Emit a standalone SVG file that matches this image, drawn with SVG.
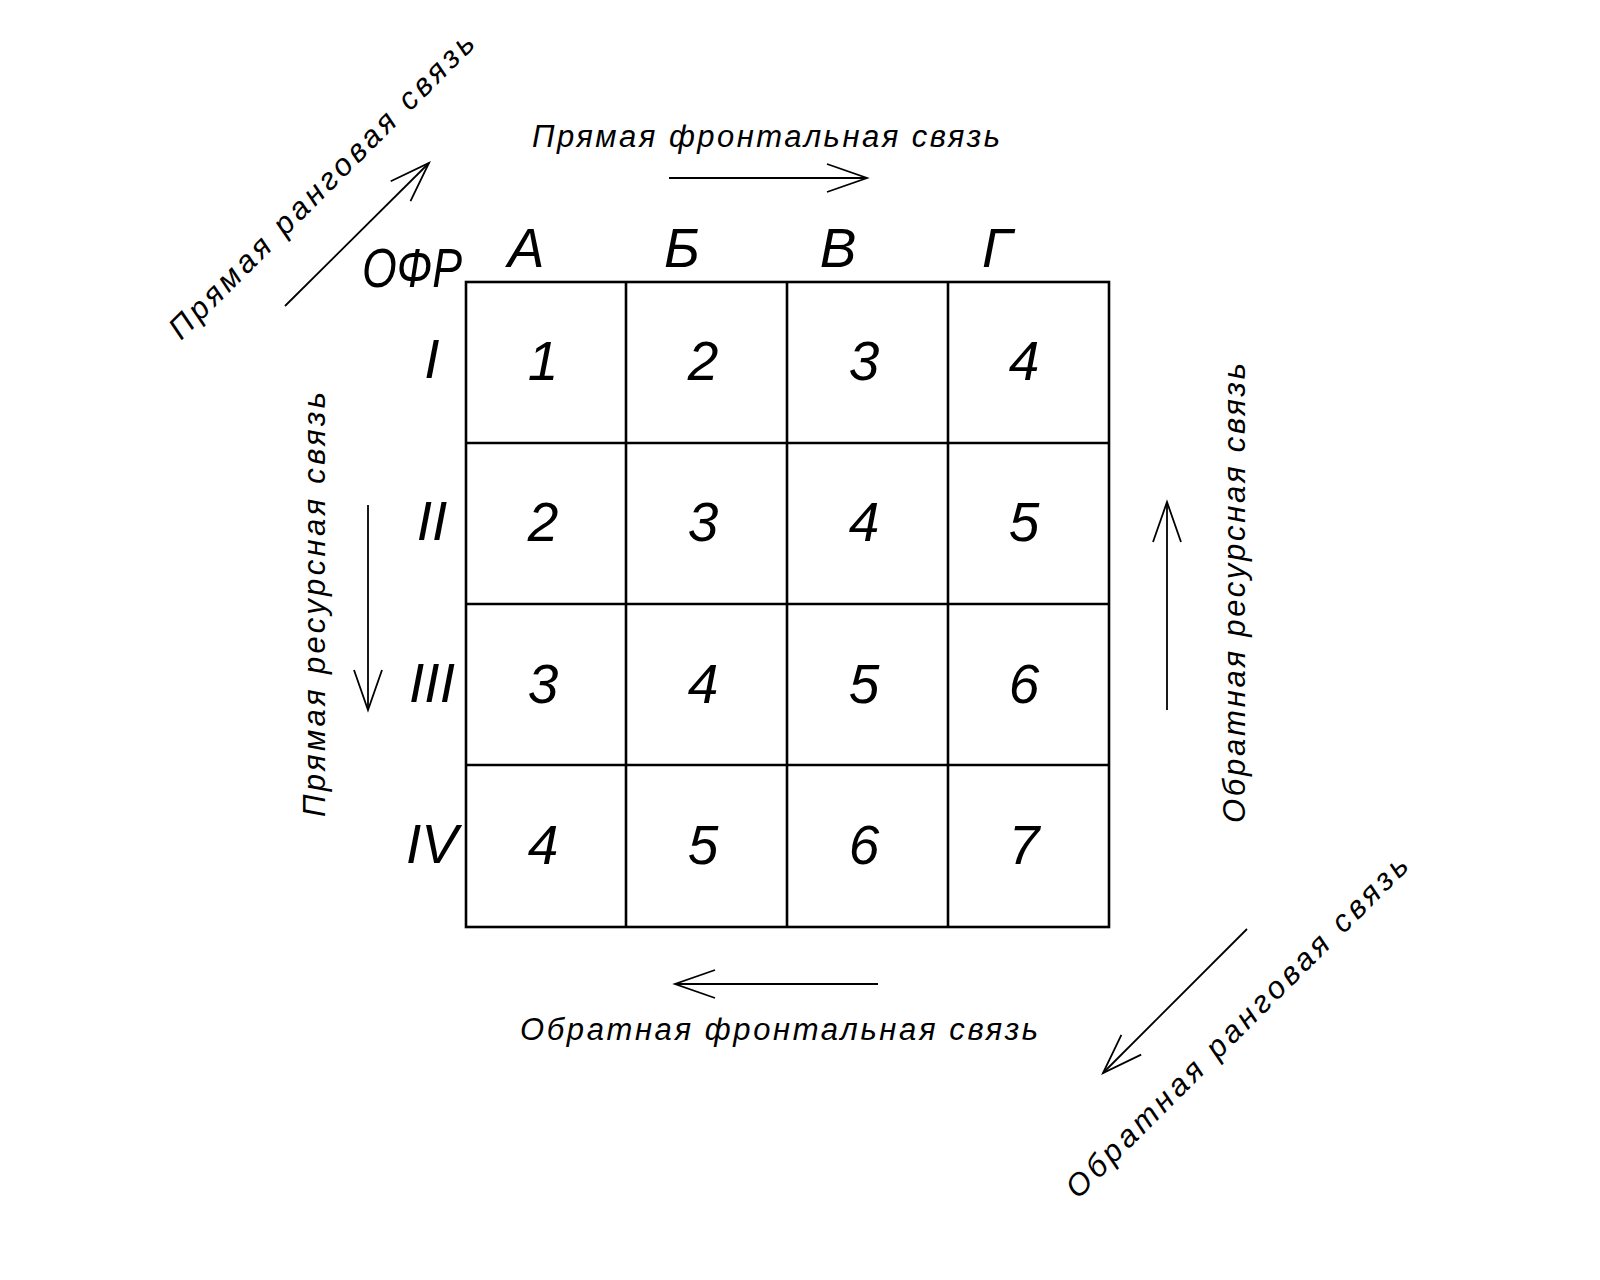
<svg xmlns="http://www.w3.org/2000/svg" width="1600" height="1280" viewBox="0 0 1600 1280">
<style>
.grid{fill:none;stroke:#000;stroke-width:2.6}
.arrow{fill:none;stroke:#000;stroke-width:1.8}
.big{font-family:"Liberation Sans","DejaVu Sans",sans-serif;font-style:italic;font-size:55px;fill:#000}
.cell{font-family:"Liberation Sans","DejaVu Sans",sans-serif;font-style:italic;font-size:55px;fill:#000;text-anchor:middle}
.lbl{font-family:"Liberation Sans","DejaVu Sans",sans-serif;font-style:italic;font-size:31px;fill:#000}
</style>
<defs>
<marker id="head" markerUnits="userSpaceOnUse" markerWidth="60" markerHeight="40" refX="0" refY="0" viewBox="-50 -20 60 40" orient="auto" overflow="visible">
<path d="M-40,-14 L0,0 L-40,14" fill="none" stroke="#000" stroke-width="1.8"/>
</marker>
</defs>
<rect width="1600" height="1280" fill="#fff"/>

<g id="matrix">
<rect class="grid" x="466" y="282" width="643" height="645"/>
<line class="grid" x1="626" y1="282" x2="626" y2="927"/>
<line class="grid" x1="787" y1="282" x2="787" y2="927"/>
<line class="grid" x1="948" y1="282" x2="948" y2="927"/>
<line class="grid" x1="466" y1="443" x2="1109" y2="443"/>
<line class="grid" x1="466" y1="604" x2="1109" y2="604"/>
<line class="grid" x1="466" y1="765" x2="1109" y2="765"/>
</g>

<g id="header">
<text class="big" x="362" y="287" textLength="100" lengthAdjust="spacingAndGlyphs">ОФР</text>
<text class="cell" x="526" y="267">А</text>
<text class="cell" x="682" y="267">Б</text>
<text class="cell" x="838" y="267">В</text>
<text class="cell" x="997" y="267">Г</text>
<text class="cell" x="432" y="378">I</text>
<text class="cell" x="432" y="540">II</text>
<text class="cell" x="432" y="702">III</text>
<text class="cell" x="432" y="863">IV</text>
</g>

<g id="cells">
<text class="cell" x="543" y="380">1</text>
<text class="cell" x="703" y="380">2</text>
<text class="cell" x="864" y="380">3</text>
<text class="cell" x="1024" y="380">4</text>
<text class="cell" x="543" y="541">2</text>
<text class="cell" x="703" y="541">3</text>
<text class="cell" x="864" y="541">4</text>
<text class="cell" x="1024" y="541">5</text>
<text class="cell" x="543" y="703">3</text>
<text class="cell" x="703" y="703">4</text>
<text class="cell" x="864" y="703">5</text>
<text class="cell" x="1024" y="703">6</text>
<text class="cell" x="543" y="864">4</text>
<text class="cell" x="703" y="864">5</text>
<text class="cell" x="864" y="864">6</text>
<text class="cell" x="1024" y="864">7</text>
</g>

<g id="labels">
<text class="lbl" x="532" y="147" textLength="468" lengthAdjust="spacing">Прямая фронтальная связь</text>
<text class="lbl" x="520" y="1040" textLength="518" lengthAdjust="spacing">Обратная фронтальная связь</text>
<text class="lbl" transform="translate(325,817) rotate(-90)" textLength="425" lengthAdjust="spacing">Прямая ресурсная связь</text>
<text class="lbl" transform="translate(1245,823) rotate(-90)" textLength="460" lengthAdjust="spacing">Обратная ресурсная связь</text>
<text class="lbl" transform="translate(181,341) rotate(-45)" textLength="418" lengthAdjust="spacing">Прямая ранговая связь</text>
<text class="lbl" transform="translate(1078,1200) rotate(-45)" textLength="470" lengthAdjust="spacing">Обратная ранговая связь</text>
</g>

<g id="connectors">
<line class="arrow" x1="669" y1="178" x2="867" y2="178" marker-end="url(#head)"/>
<line class="arrow" x1="878" y1="984" x2="675" y2="984" marker-end="url(#head)"/>
<line class="arrow" x1="368" y1="505" x2="368" y2="710" marker-end="url(#head)"/>
<line class="arrow" x1="1167" y1="710" x2="1167" y2="502" marker-end="url(#head)"/>
<line class="arrow" x1="285" y1="306" x2="429" y2="163" marker-end="url(#head)"/>
<line class="arrow" x1="1247" y1="929" x2="1103" y2="1073" marker-end="url(#head)"/>
</g>
</svg>
